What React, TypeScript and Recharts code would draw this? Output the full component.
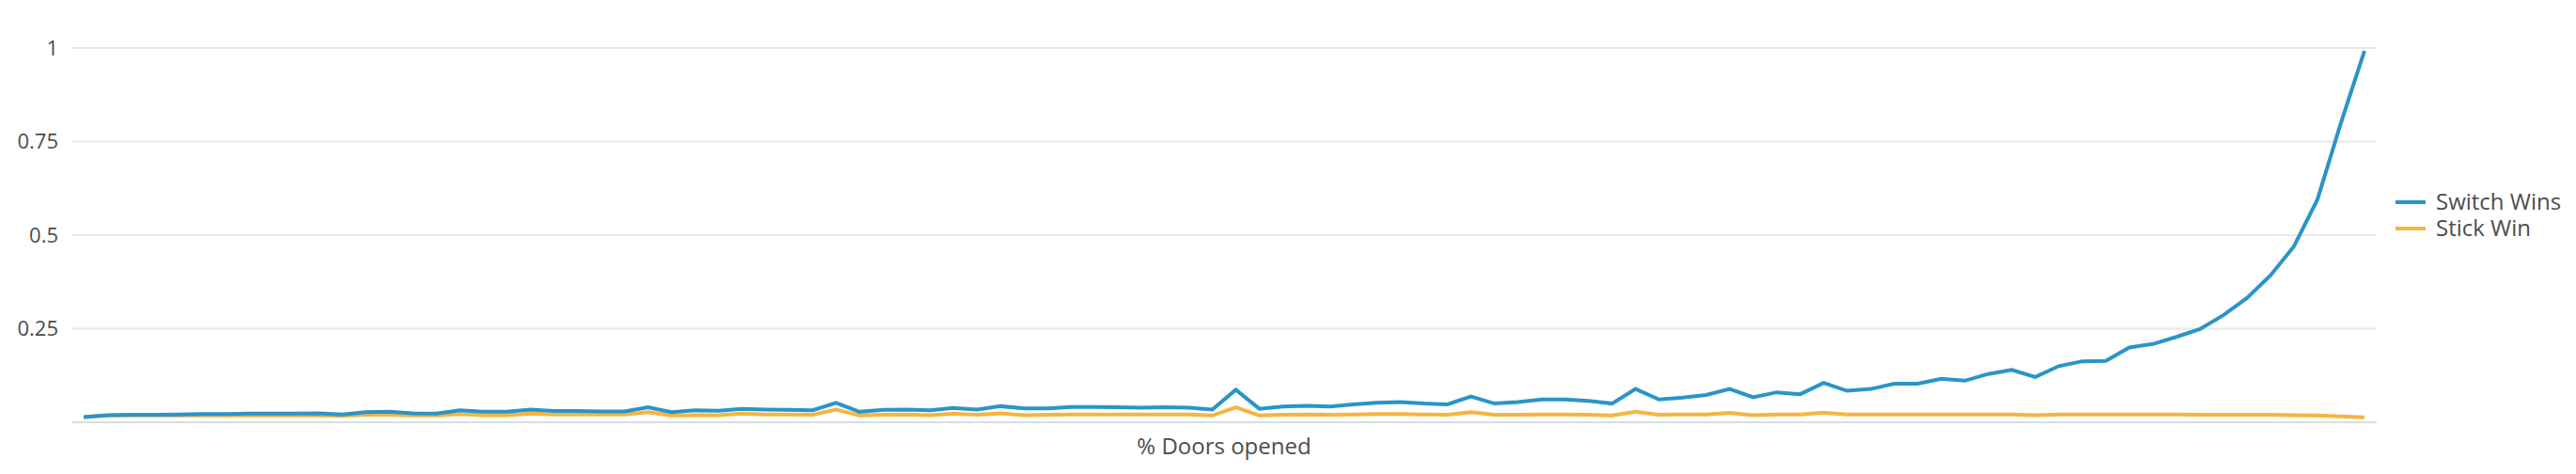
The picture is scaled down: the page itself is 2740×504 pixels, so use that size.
import { LineChart, Line, XAxis, YAxis, CartesianGrid, Legend } from "recharts";

// share of games won per % of doors opened
const doorsOpened = [
  1, 2, 3, 4, 5, 6, 7, 8, 9, 10, 11, 12, 13, 14, 15, 16, 17, 18, 19, 20,
  21, 22, 23, 24, 25, 26, 27, 28, 29, 30, 31, 32, 33, 34, 35, 36, 37, 38, 39, 40,
  41, 42, 43, 44, 45, 46, 47, 48, 49, 50, 51, 52, 53, 54, 55, 56, 57, 58, 59, 60,
  61, 62, 63, 64, 65, 66, 67, 68, 69, 70, 71, 72, 73, 74, 75, 76, 77, 78, 79, 80,
  81, 82, 83, 84, 85, 86, 87, 88, 89, 90, 91, 92, 93, 94, 95, 96, 97, 98,
];

const switchWins = [
  0.014, 0.019, 0.02, 0.02, 0.021, 0.022, 0.022, 0.023, 0.023, 0.023,
  0.024, 0.021, 0.027, 0.028, 0.024, 0.023, 0.032, 0.028, 0.028, 0.034,
  0.03, 0.03, 0.029, 0.029, 0.04, 0.027, 0.032, 0.031, 0.036, 0.034,
  0.033, 0.032, 0.052, 0.028, 0.033, 0.034, 0.032, 0.038, 0.034, 0.043,
  0.037, 0.037, 0.041, 0.041, 0.04, 0.039, 0.04, 0.039, 0.034, 0.087,
  0.036, 0.042, 0.044, 0.042, 0.048, 0.052, 0.054, 0.05, 0.048, 0.069,
  0.05, 0.054, 0.061, 0.061, 0.057, 0.05, 0.089, 0.061, 0.066, 0.073,
  0.089, 0.067, 0.08, 0.075, 0.105, 0.084, 0.089, 0.103, 0.103, 0.116,
  0.111, 0.129, 0.14, 0.121, 0.15, 0.163, 0.164, 0.2, 0.209, 0.228,
  0.249, 0.286, 0.332, 0.392, 0.47, 0.595, 0.8, 0.992,
];

const stickWin = [
  0.014, 0.018, 0.018, 0.018, 0.018, 0.018, 0.018, 0.018, 0.018, 0.018,
  0.018, 0.017, 0.02, 0.02, 0.018, 0.018, 0.022, 0.019, 0.019, 0.023,
  0.021, 0.021, 0.021, 0.021, 0.027, 0.018, 0.019, 0.019, 0.023, 0.021,
  0.021, 0.02, 0.034, 0.018, 0.02, 0.021, 0.019, 0.023, 0.02, 0.024,
  0.019, 0.02, 0.021, 0.021, 0.021, 0.021, 0.021, 0.021, 0.018, 0.04,
  0.018, 0.02, 0.021, 0.02, 0.021, 0.022, 0.022, 0.021, 0.02, 0.027,
  0.02, 0.02, 0.021, 0.021, 0.02, 0.018, 0.028, 0.02, 0.021, 0.021,
  0.025, 0.019, 0.021, 0.021, 0.026, 0.021, 0.021, 0.021, 0.021, 0.021,
  0.021, 0.021, 0.021, 0.019, 0.021, 0.021, 0.021, 0.021, 0.021, 0.021,
  0.02, 0.02, 0.02, 0.02, 0.019, 0.018, 0.016, 0.013,
];

const yTicks = [0.25, 0.5, 0.75, 1];

const seriesNames: Record<string, string> = {
  switchWins: "Switch Wins",
  stickWin: "Stick Win",
};
const legendOrder = ["switchWins", "stickWin"];

const FONT = "'Open Sans', sans-serif";
const TEXT = "#4d4d4d";

const chartData = doorsOpened.map((d, i) => ({
  doors: d,
  switchWins: switchWins[i],
  stickWin: stickWin[i],
}));

function LegendContent(props: any) {
  const items = [...(props.payload ?? [])].sort(
    (a: any, b: any) => legendOrder.indexOf(a.dataKey) - legendOrder.indexOf(b.dataKey)
  );
  return (
    <div style={{ fontFamily: FONT }}>
      {items.map((entry: any) => (
        <div
          key={entry.dataKey}
          style={{ display: "flex", alignItems: "center", height: 28 }}
        >
          <span
            style={{
              display: "inline-block",
              width: 32,
              height: 4,
              background: entry.color,
              marginRight: 11,
              position: "relative",
              top: 1,
            }}
          />
          <span style={{ fontSize: 24, lineHeight: "28px", color: TEXT, whiteSpace: "nowrap" }}>
            {entry.value}
          </span>
        </div>
      ))}
    </div>
  );
}

export default function App() {
  return (
    <div style={{ width: 2740, height: 504, background: "#fff" }}>
      <style>{"body{margin:0;}"}</style>
      <LineChart
        width={2740}
        height={504}
        data={chartData}
        margin={{ top: 51, right: 212, bottom: 0, left: 0 }}
        style={{ fontFamily: FONT }}
      >
        <CartesianGrid vertical={false} stroke="#e8e8e8" strokeWidth={2} />
        <XAxis
          dataKey="doors"
          tick={false}
          tickLine={false}
          axisLine={{ stroke: "#d9dde1", strokeWidth: 2 }}
          height={55}
          padding={{ left: 13, right: 13 }}
          label={{
            value: "% Doors opened",
            position: "insideTop",
            offset: 17,
            fill: TEXT,
            fontSize: 24,
            fontFamily: FONT,
          }}
        />
        <YAxis
          domain={[0, 1]}
          ticks={yTicks}
          width={76}
          axisLine={false}
          tickLine={false}
          tickSize={0}
          tickMargin={14}
          tick={{ fill: TEXT, fontSize: 22, fontFamily: FONT }}
        />
        <Legend
          layout="horizontal"
          verticalAlign="middle"
          align="center"
          wrapperStyle={{ left: 2548, top: 200, width: 192 }}
          content={LegendContent}
        />
        <Line
          type="linear"
          dataKey="stickWin"
          name={seriesNames.stickWin}
          stroke="#f4b53f"
          strokeWidth={4}
          dot={false}
          isAnimationActive={false}
        />
        <Line
          type="linear"
          dataKey="switchWins"
          name={seriesNames.switchWins}
          stroke="#2a95c6"
          strokeWidth={4}
          dot={false}
          isAnimationActive={false}
        />
      </LineChart>
    </div>
  );
}
